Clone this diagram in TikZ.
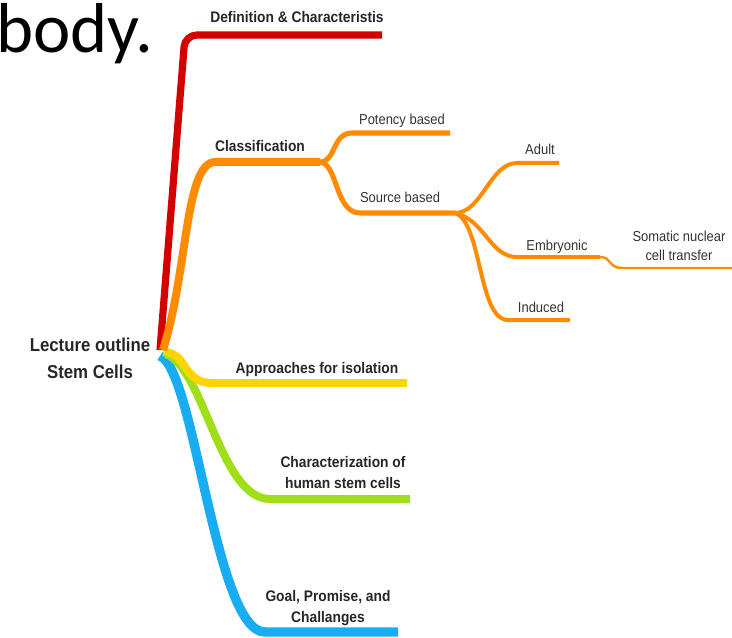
\documentclass[tikz,border=0pt]{standalone}
\usepackage{fontspec}
\setmainfont{Liberation Sans}[FakeStretch=0.9]
\newfontfamily\slidefont{Carlito}
\definecolor{cred}{RGB}{212,0,0}
\definecolor{corange}{RGB}{255,140,0}
\definecolor{cyellow}{RGB}{255,212,0}
\definecolor{cgreen}{RGB}{160,222,24}
\definecolor{cblue}{RGB}{24,172,242}
\begin{document}
\begin{tikzpicture}[x=0.75pt,y=-0.75pt,
  main/.style={line width=6pt},
  sub/.style={line width=3.8pt, draw=corange},
  subsub/.style={line width=3pt, draw=corange},
  tiny/.style={line width=1.8pt, draw=corange},
  blab/.style={inner sep=0pt, anchor=base, font=\bfseries\fontsize{11.5pt}{15.75pt}\selectfont, align=center, text=black!85},
  rlab/.style={inner sep=0pt, anchor=base, font=\fontsize{10.8pt}{13.5pt}\selectfont, align=center, text=black!80},
]
\useasboundingbox (0,0) rectangle (732,638);

\node[inner sep=0pt, anchor=base west, font=\slidefont\fontsize{53pt}{54pt}\selectfont] (body) at (-4,53) {body.};

% coordinates
\coordinate (rR) at (160,350);
\coordinate (rO) at (163,350);
\coordinate (rY) at (163,352);
\coordinate (rG) at (166,354);
\coordinate (rB) at (160,356);
\coordinate (defA) at (185,35);
\coordinate (defE) at (382,35);
\coordinate (clA) at (215,162);
\coordinate (clJ) at (320,162);
\coordinate (poA) at (352,133);
\coordinate (poE) at (450,133);
\coordinate (soA) at (360,213);
\coordinate (soJ) at (455,213);
\coordinate (adA) at (517,163);
\coordinate (adE) at (559,163);
\coordinate (emA) at (517,257);
\coordinate (emJ) at (600,257);
\coordinate (smA) at (622,268);
\coordinate (smE) at (732,268);
\coordinate (inA) at (508,320);
\coordinate (inE) at (570,320);
\coordinate (apA) at (212,383);
\coordinate (apE) at (407,383);
\coordinate (chA) at (270,499);
\coordinate (chE) at (410,499);
\coordinate (goA) at (265,632);
\coordinate (goE) at (398,632);

% branches
\draw[main, draw=cblue, line width=7pt] (rB) .. controls (195,370) and (215,632) .. (goA) -- (goE);
\draw[main, draw=cgreen] (rG) .. controls (205,370) and (220,499) .. (chA) -- (chE);
\draw[main, draw=cyellow] (rY) .. controls (188,352) and (182,383) .. (apA) -- (apE);
\draw[main, draw=cred, line width=5.4pt, rounded corners=9pt] (rR) -- (defA) -- (defE);
\draw[main, draw=corange] (rO) .. controls (188,270) and (185,163) .. (clA) -- (clJ);
\draw[sub] (clJ) .. controls (336,162) and (332,133) .. (poA) -- (poE);
\draw[sub] (clJ) .. controls (338,164) and (335,213) .. (soA) -- (soJ);
\draw[subsub] (soJ) .. controls (482,213) and (490,163) .. (adA) -- (adE);
\draw[subsub] (soJ) .. controls (485,220) and (490,257) .. (emA) -- (emJ);
\draw[tiny] (emJ) .. controls (612,257) and (608,268) .. (smA) -- (smE);
\draw[subsub] (soJ) .. controls (482,222) and (478,320) .. (inA) -- (inE);

% labels
\node[blab] (def) at (297,23) {Definition \& Characteristis};
\node[blab] (cl) at (260,152) {Classification};
\node[rlab] (po) at (402,125) {Potency based};
\node[rlab] (so) at (400,203) {Source based};
\node[rlab] (ad) at (540,155) {Adult};
\node[rlab] (em) at (557,250) {Embryonic};
\node[rlab] (sm) at (679,260) {Somatic nuclear\\cell transfer};
\node[rlab] (in) at (541,312) {Induced};
\node[blab, font=\bfseries\fontsize{14pt}{20.25pt}\selectfont] (lec) at (90,378) {Lecture outline\\Stem Cells};
\node[blab] (ap) at (317,373) {Approaches for isolation};
\node[blab] (ch) at (343,488) {Characterization of\\human stem cells};
\node[blab] (go) at (328,622) {Goal, Promise, and\\Challanges};
\end{tikzpicture}
\end{document}
